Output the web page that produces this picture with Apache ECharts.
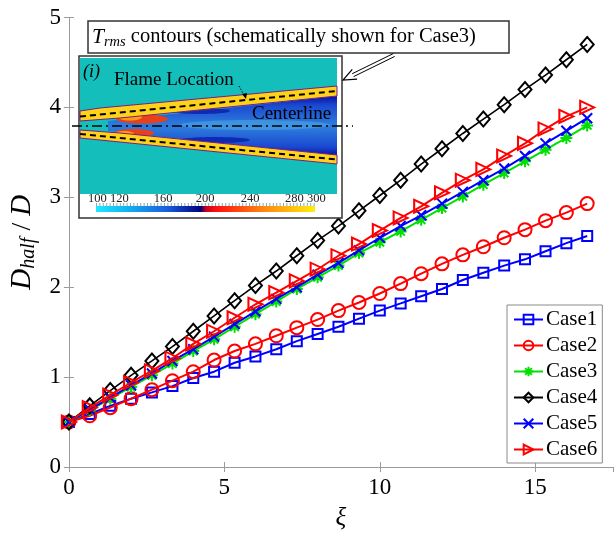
<!DOCTYPE html>
<html>
<head>
<meta charset="utf-8">
<script src="https://cdn.jsdelivr.net/npm/echarts@6/dist/echarts.min.js"></script>
<style>
html,body{margin:0;padding:0;background:#fff;}
#c{width:614px;height:536px;}
</style>
</head>
<body>
<div id="c"></div>
<script>
// ---------- data ----------
const xi = [0,0.67,1.33,2,2.67,3.33,4,4.67,5.33,6,6.67,7.33,8,8.67,9.33,10,10.67,11.33,12,12.67,13.33,14,14.67,15.33,16,16.67];
const case1 = [0.50,0.59,0.68,0.76,0.83,0.90,0.99,1.06,1.16,1.23,1.31,1.40,1.48,1.56,1.65,1.74,1.82,1.90,1.98,2.08,2.16,2.24,2.31,2.40,2.49,2.57];
const case2 = [0.50,0.57,0.66,0.76,0.86,0.96,1.06,1.19,1.29,1.37,1.46,1.55,1.64,1.74,1.83,1.93,2.04,2.15,2.26,2.36,2.45,2.55,2.64,2.74,2.83,2.93];
const case3 = [0.50,0.63,0.76,0.89,1.02,1.15,1.29,1.42,1.56,1.70,1.84,1.98,2.11,2.24,2.38,2.50,2.62,2.75,2.88,3.01,3.14,3.27,3.40,3.53,3.66,3.80];
const case4 = [0.50,0.68,0.85,1.02,1.18,1.34,1.51,1.68,1.85,2.02,2.18,2.35,2.52,2.68,2.85,3.02,3.19,3.37,3.54,3.71,3.87,4.03,4.20,4.36,4.53,4.70];
const case5 = [0.50,0.64,0.77,0.91,1.04,1.18,1.31,1.45,1.59,1.73,1.87,2.00,2.14,2.27,2.41,2.55,2.68,2.80,2.93,3.06,3.19,3.32,3.46,3.60,3.74,3.88];
const case6 = [0.50,0.66,0.80,0.94,1.07,1.21,1.37,1.51,1.66,1.81,1.94,2.07,2.20,2.35,2.48,2.63,2.77,2.90,3.05,3.19,3.31,3.46,3.60,3.76,3.90,4.00];
const seriesNames = ['Case1','Case2','Case3','Case4','Case5','Case6'];
const xTicks = [0,5,10,15];
const yTicks = [0,1,2,3,4,5];
const colorbarLabels = ['100 120','160','200','240','280 300'];

// ---------- styling ----------
const SERIF = '"Liberation Serif","Times New Roman",serif';
const AX = '#9a9a9a';
const ASTER = 'path://M0,5 L10,5 M5,0 L5,10 M1.5,1.5 L8.5,8.5 M1.5,8.5 L8.5,1.5';
const XMARK = 'path://M0,0 L10,10 M10,0 L0,10';

const allData = [case1, case2, case3, case4, case5, case6];
const styles = [
  {color:'#0000ff', symbol:'rect', size:10, rot:0},
  {color:'#ff0000', symbol:'circle', size:13, rot:0},
  {color:'#00e000', symbol:ASTER, size:12, rot:0},
  {color:'#000000', symbol:'diamond', size:[13,15], rot:0},
  {color:'#0000ff', symbol:XMARK, size:10, rot:0},
  {color:'#ff0000', symbol:'triangle', size:[13,14], rot:-90}
];

const series = allData.map((d, i) => ({
  name: seriesNames[i],
  type: 'line',
  data: xi.map((x, j) => [x, d[j]]),
  symbol: styles[i].symbol,
  symbolSize: styles[i].size,
  symbolRotate: styles[i].rot,
  showAllSymbol: true,
  lineStyle: {color: styles[i].color, width: i === 3 ? 1.6 : 2},
  itemStyle: {color: 'rgba(255,255,255,0)', borderColor: styles[i].color, borderWidth: 2},
  emphasis: {disabled: true},
  animation: false,
  z: 2 + i
}));

const chart = echarts.init(document.getElementById('c'), null, {renderer:'canvas'});

// ---------- inset (schematic contour picture) ----------
const g = [];
g.push({type:'rect', shape:{x:79,y:56,width:263,height:162}, style:{fill:'#fff', stroke:'#333', lineWidth:1.5}, z:100});
g.push({type:'rect', shape:{x:80,y:58,width:257,height:136}, style:{fill:'#14bfbb'}, z:101});
// interior
g.push({type:'polygon', shape:{points:[[108,121],[337,96],[337,156],[108,131]]},
  style:{fill:{type:'linear',x:0,y:0,x2:0,y2:1,colorStops:[
    {offset:0,color:'#0610a0'},{offset:0.15,color:'#1a48d0'},{offset:0.45,color:'#2c78dc'},
    {offset:0.55,color:'#2c78dc'},{offset:0.85,color:'#1a48d0'},{offset:1,color:'#0610a0'}]}}, z:102});
g.push({type:'ellipse', shape:{cx:255,cy:125,rx:75,ry:5}, style:{fill:'rgba(70,160,225,0.7)'}, z:103});
g.push({type:'ellipse', shape:{cx:200,cy:111,rx:30,ry:3}, style:{fill:'rgba(10,30,170,0.8)'}, z:103});
g.push({type:'ellipse', shape:{cx:215,cy:140,rx:35,ry:3}, style:{fill:'rgba(10,30,170,0.8)'}, z:103});
// hot spots
g.push({type:'ellipse', shape:{cx:142,cy:119,rx:26,ry:4.5}, style:{fill:'#e8401a'}, z:104});
g.push({type:'ellipse', shape:{cx:130,cy:117,rx:12,ry:3.5}, style:{fill:'#ff9a10'}, z:105});
g.push({type:'ellipse', shape:{cx:134,cy:133,rx:20,ry:4}, style:{fill:'#e8401a'}, z:104});
g.push({type:'ellipse', shape:{cx:124,cy:134,rx:10,ry:3}, style:{fill:'#ff9a10'}, z:105});
// flame bands
g.push({type:'polygon', shape:{points:[[80,111],[100,108],[337,86],[337,96],[120,118],[80,121]]},
  style:{fill:'#ffd21a', stroke:'#7a1a8a', lineWidth:1}, z:106});
g.push({type:'polygon', shape:{points:[[80,130],[120,133],[337,155],[337,164],[100,140],[80,138]]},
  style:{fill:'#ffd21a', stroke:'#7a1a8a', lineWidth:1}, z:106});
g.push({type:'line', shape:{x1:80,y1:116.5,x2:337,y2:91}, style:{stroke:'#000', lineWidth:2, lineDash:[6,4]}, z:107});
g.push({type:'line', shape:{x1:80,y1:134,x2:337,y2:159.5}, style:{stroke:'#000', lineWidth:2, lineDash:[6,4]}, z:107});
g.push({type:'line', shape:{x1:72,y1:126,x2:353,y2:126}, style:{stroke:'#000', lineWidth:1.5, lineDash:[10,4,2,4]}, z:107});
g.push({type:'text', style:{x:83,y:72,text:'(i)',fontFamily:SERIF,fontSize:18,fontStyle:'italic',fill:'#000',verticalAlign:'middle'}, z:110});
g.push({type:'text', style:{x:114,y:80,text:'Flame Location',fontFamily:SERIF,fontSize:19,fill:'#000',verticalAlign:'middle'}, z:110});
g.push({type:'text', style:{x:252,y:114,text:'Centerline',fontFamily:SERIF,fontSize:19,fill:'#000',verticalAlign:'middle'}, z:110});
g.push({type:'line', shape:{x1:239,y1:86,x2:245,y2:97}, style:{stroke:'#000', lineWidth:1, lineDash:[1.5,1.5]}, z:110});
g.push({type:'polygon', shape:{points:[[246,99],[242,94],[247,93]]}, style:{fill:'#000'}, z:110});
// colorbar
g.push({type:'rect', shape:{x:96,y:206,width:219,height:6},
  style:{fill:{type:'linear',x:0,y:0,x2:1,y2:0,colorStops:[
    {offset:0,color:'#20e8ff'},{offset:0.15,color:'#10b0f0'},{offset:0.32,color:'#1a60e0'},
    {offset:0.48,color:'#00007a'},{offset:0.5,color:'#c00020'},{offset:0.55,color:'#ff1010'},
    {offset:0.75,color:'#ff8010'},{offset:1,color:'#ffee10'}]}}, z:102});
g.push({type:'line', shape:{x1:96,y1:204.5,x2:315,y2:204.5}, style:{stroke:'#8aa', lineWidth:3, lineDash:[1,2.4]}, z:102});
const cbPos = [[88,'left'],[163,'center'],[205,'center'],[250,'center'],[285,'left']];
colorbarLabels.forEach((t,i) => g.push({type:'text', style:{x:cbPos[i][0], y:199, text:t, fontFamily:SERIF, fontSize:12.5, fill:'#222', align:cbPos[i][1], verticalAlign:'middle'}, z:110}));
// title box
g.push({type:'rect', shape:{x:88,y:21,width:421,height:32}, style:{fill:'#fff', stroke:'#333', lineWidth:1.5}, z:100});
g.push({type:'text', style:{x:92,y:37,verticalAlign:'middle',
  text:'{t|T}{s|rms}{n| contours (schematically shown for Case3)}',
  rich:{
    t:{fontFamily:SERIF,fontSize:21.5,fontStyle:'italic',fill:'#000'},
    s:{fontFamily:SERIF,fontSize:14.5,fontStyle:'italic',fill:'#000',verticalAlign:'bottom',padding:[10,0,0,0]},
    n:{fontFamily:SERIF,fontSize:20.5,fill:'#000'}
  }}, z:110});
(function(){
  const tx=394, ty=55, hx=343, hy=80;
  const dx=hx-tx, dy=hy-ty, L=Math.hypot(dx,dy), ux=dx/L, uy=dy/L, px=-uy, py=ux;
  const bx=hx-ux*11, by=hy-uy*11;
  [-1.6,1.6].forEach(o => g.push({type:'line', shape:{x1:tx+px*o,y1:ty+py*o,x2:bx+px*o,y2:by+py*o}, style:{stroke:'#000',lineWidth:1}, z:110}));
  g.push({type:'polyline', shape:{points:[[bx-ux*2+px*5.5,by-uy*2+py*5.5],[hx,hy],[bx-ux*2-px*5.5,by-uy*2-py*5.5]]}, style:{stroke:'#000',lineWidth:1.2,fill:null}, z:110});
})();

const option = {
  backgroundColor:'#fff',
  animation:false,
  grid:{left:66, top:17.5, width:547, height:454.5, containLabel:false},
  xAxis:[{
    type:'value', min:0, max:17.5, interval:5,
    name:'ξ', nameLocation:'middle', nameGap:39,
    nameTextStyle:{fontFamily:SERIF, fontSize:25, fontStyle:'italic', color:'#000'},
    axisLine:{show:true, lineStyle:{color:AX, width:1}},
    axisTick:{show:true, inside:true, length:5, lineStyle:{color:AX}},
    axisLabel:{fontFamily:SERIF, fontSize:23, color:'#000', margin:9, showMaxLabel:false,
      formatter: v => xTicks.indexOf(v) >= 0 ? String(v) : ''},
    splitLine:{show:false}
  },{
    type:'value', min:0, max:17.5, interval:5, position:'top',
    axisLine:{show:true, lineStyle:{color:AX, width:1}},
    axisTick:{show:true, inside:true, length:5, lineStyle:{color:AX}},
    axisLabel:{show:false}, splitLine:{show:false}
  }],
  yAxis:[{
    type:'value', min:0, max:5, interval:1,
    name:'{d|D}{s|half}{m| / }{d|D}', nameLocation:'middle', nameGap:30, nameRotate:90,
    nameTextStyle:{rich:{
      d:{fontFamily:SERIF, fontSize:29, fontStyle:'italic', color:'#000'},
      s:{fontFamily:SERIF, fontSize:20, fontStyle:'italic', color:'#000', verticalAlign:'bottom', padding:[12,0,0,0]},
      m:{fontFamily:SERIF, fontSize:28, color:'#000'}
    }},
    axisLine:{show:true, lineStyle:{color:AX, width:1}},
    axisTick:{show:true, inside:true, length:5, lineStyle:{color:AX}},
    axisLabel:{fontFamily:SERIF, fontSize:23, color:'#000', margin:8,
      formatter: v => yTicks.indexOf(v) >= 0 ? String(v) : ''},
    splitLine:{show:false}
  },{
    type:'value', min:0, max:5, interval:1, position:'right',
    axisLine:{show:true, lineStyle:{color:AX, width:1}},
    axisTick:{show:true, inside:true, length:5, lineStyle:{color:AX}},
    axisLabel:{show:false}, splitLine:{show:false}
  }],
  legend:{
    data: seriesNames,
    orient:'vertical', left:507, top:305,
    backgroundColor:'#fff', borderColor:'#8a8a8a', borderWidth:1,
    padding:[4,5,3,6], itemGap:5, itemWidth:29, itemHeight:12,
    textStyle:{fontFamily:SERIF, fontSize:21, color:'#000', padding:[0,0,0,-2]},
    selectedMode:false
  },
  graphic: g,
  series: series
};
chart.setOption(option);
</script>
</body>
</html>
